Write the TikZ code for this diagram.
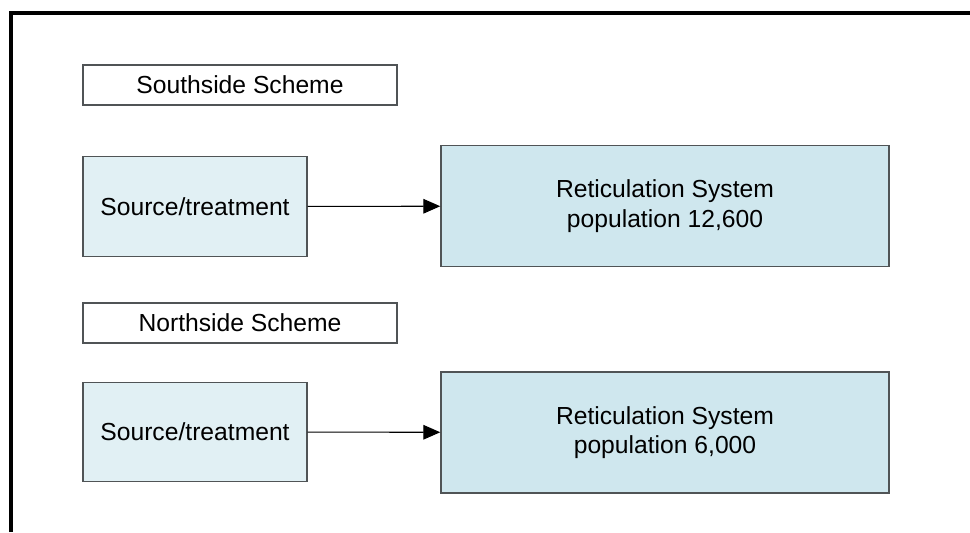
\documentclass[tikz,border=0pt]{standalone}
\usepackage{fontspec}
\setmainfont{Liberation Sans}
\usetikzlibrary{arrows.meta}
\definecolor{SourceFill}{RGB}{225,240,244}
\definecolor{ReticFill}{RGB}{207,231,238}
\definecolor{BoxEdge}{RGB}{80,84,86}

\begin{document}
\begin{tikzpicture}[
  x=0.75pt, y=-0.75pt,
  every node/.style={font=\fontsize{18.5}{22}\selectfont, inner sep=0pt, align=center},
  schemebox/.style={draw=BoxEdge, line width=0.8pt, fill=white,
    minimum width=235.5pt, minimum height=30pt},
  sourcebox/.style={draw=BoxEdge, line width=0.9pt, fill=SourceFill,
    minimum width=168pt, minimum height=74.5pt},
  reticbox/.style={draw=BoxEdge, line width=1.1pt, fill=ReticFill,
    minimum width=336pt, minimum height=91pt},
  flow/.style={-{Triangle[length=12.75pt,width=11pt]}, line width=0.8pt}
]
\useasboundingbox (0,0) rectangle (970,532);

% outer frame
\draw[line width=3pt] (11,532) -- (11,13) -- (970,13);

% Southside
\node[schemebox] (southTitle) at (240,85) {Southside Scheme};
\node[sourcebox] (southSource) at (195,206.5) {Source/treatment};
\node[reticbox] (southRetic) at (665,206) {Reticulation System\\population 12,600};
\draw[flow] (southSource) -- (southRetic);

% Northside
\node[schemebox] (northTitle) at (240,323) {Northside Scheme};
\node[sourcebox] (northSource) at (195,432) {Source/treatment};
\node[reticbox] (northRetic) at (665,432.5) {Reticulation System\\population 6,000};
\draw[flow] (northSource) -- (northRetic);
\end{tikzpicture}
\end{document}
